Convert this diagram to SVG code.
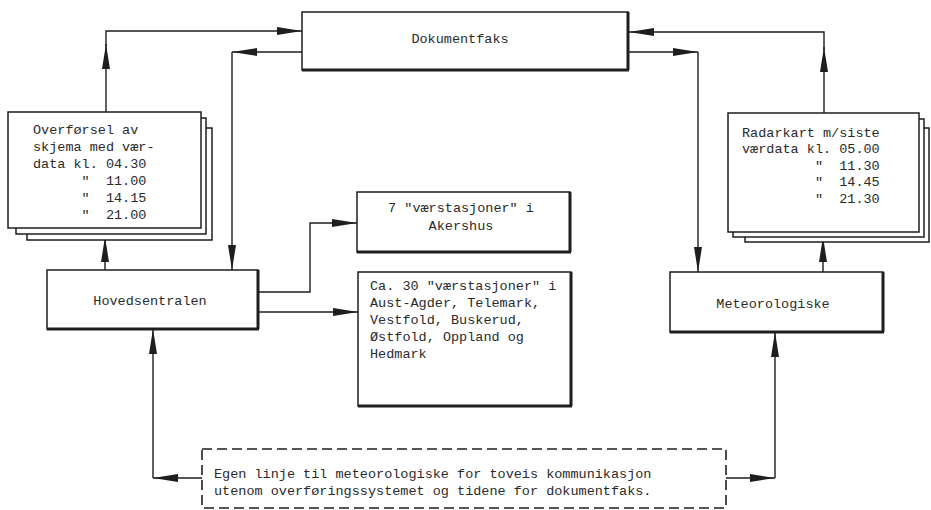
<svg xmlns="http://www.w3.org/2000/svg" width="931" height="510" viewBox="0 0 931 510">
<defs>
<style>
.box{fill:#fff;stroke:#1e1e1e;stroke-width:1.5}
.sh{fill:none;stroke:#1e1e1e;stroke-width:3}
.t{font-family:"Liberation Mono","DejaVu Sans Mono",monospace;font-size:13.5px;fill:#2a2a2a}
.c{text-anchor:middle}
.ln{fill:none;stroke:#1e1e1e;stroke-width:1.4;marker-end:url(#ah)}
.dash{fill:#fff;stroke:#1e1e1e;stroke-width:1.6;stroke-dasharray:10 5}
</style>
<marker id="ah" markerUnits="userSpaceOnUse" markerWidth="26" markerHeight="9" refX="25" refY="4.5" orient="auto">
<path d="M0,0.5 L25,4.5 L0,8.5 Z" fill="#1e1e1e"/>
</marker>
</defs>
<rect width="931" height="510" fill="#fff"/>

<g id="connectors">
<path class="ln" d="M106,112 V44"/>
<path class="ln" d="M106,46 V31 H302"/>
<path class="ln" d="M302,52 H232"/>
<path class="ln" d="M232,52 V270"/>
<path class="ln" d="M105,270 V237"/>
<path class="ln" d="M258,292 H310 V223 H357"/>
<path class="ln" d="M258,312 H358"/>
<path class="ln" d="M628,52 H698"/>
<path class="ln" d="M698,52 V272"/>
<path class="ln" d="M824,113 V47"/>
<path class="ln" d="M824,49 V32 H629"/>
<path class="ln" d="M823,272 V237"/>
<path class="ln" d="M202,478 H153"/>
<path class="ln" d="M153,478 V329"/>
<path class="ln" d="M726,478 H775"/>
<path class="ln" d="M775,478 V332"/>
</g>

<g id="dokumentfaks">
<rect class="box" x="302" y="12" width="326" height="58"/>
<path class="sh" d="M302,70 H629 M628,12 V70"/>
<text class="t c" x="460" y="43">Dokumentfaks</text>
</g>

<g id="overforsel">
<rect class="box" x="27" y="128" width="185" height="112"/>
<rect class="box" x="16" y="118" width="190" height="116"/>
<rect class="box" x="8" y="112" width="193" height="116"/>
<text class="t" x="33" y="134" xml:space="preserve">Overførsel av</text>
<text class="t" x="33" y="151" xml:space="preserve">skjema med vær-</text>
<text class="t" x="33" y="168" xml:space="preserve">data kl. 04.30</text>
<text class="t" x="33" y="185" xml:space="preserve">      "  11.00</text>
<text class="t" x="33" y="202" xml:space="preserve">      "  14.15</text>
<text class="t" x="33" y="219" xml:space="preserve">      "  21.00</text>
</g>

<g id="hovedsentralen">
<rect class="box" x="47" y="270" width="211" height="59"/>
<path class="sh" d="M47,329 H259 M258,270 V329"/>
<text class="t c" x="150" y="305">Hovedsentralen</text>
</g>

<g id="akershus">
<rect class="box" x="357" y="192" width="213" height="60"/>
<path class="sh" d="M357,252 H571 M570,192 V252"/>
<text class="t c" x="461" y="212" xml:space="preserve">7 "værstasjoner" i</text>
<text class="t c" x="461" y="230">Akershus</text>
</g>

<g id="ca30">
<rect class="box" x="358" y="272" width="213" height="134"/>
<path class="sh" d="M358,406 H572 M571,272 V406"/>
<text class="t" x="370" y="290" xml:space="preserve">Ca. 30 "værstasjoner" i</text>
<text class="t" x="370" y="307">Aust-Agder, Telemark,</text>
<text class="t" x="370" y="324">Vestfold, Buskerud,</text>
<text class="t" x="370" y="341">Østfold, Oppland og</text>
<text class="t" x="370" y="358">Hedmark</text>
</g>

<g id="radarkart">
<rect class="box" x="745" y="128" width="184" height="114"/>
<rect class="box" x="733" y="119" width="191" height="118"/>
<rect class="box" x="728" y="113" width="191" height="119"/>
<text class="t" x="742" y="137" xml:space="preserve">Radarkart m/siste</text>
<text class="t" x="742" y="153" xml:space="preserve">værdata kl. 05.00</text>
<text class="t" x="742" y="170" xml:space="preserve">         "  11.30</text>
<text class="t" x="742" y="186" xml:space="preserve">         "  14.45</text>
<text class="t" x="742" y="203" xml:space="preserve">         "  21.30</text>
</g>

<g id="meteorologiske">
<rect class="box" x="670" y="272" width="213" height="60"/>
<path class="sh" d="M670,332 H884 M883,272 V332"/>
<text class="t c" x="773" y="308">Meteorologiske</text>
</g>

<g id="egen-linje">
<rect class="dash" x="202" y="449" width="524" height="59"/>
<text class="t" x="214" y="478" xml:space="preserve">Egen linje til meteorologiske for toveis kommunikasjon</text>
<text class="t" x="214" y="495" xml:space="preserve">utenom overføringssystemet og tidene for dokumentfaks.</text>
</g>
</svg>
